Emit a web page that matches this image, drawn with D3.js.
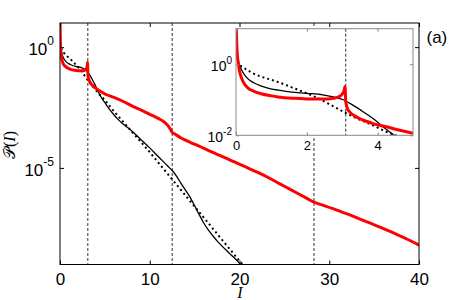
<!DOCTYPE html>
<html>
<head>
<meta charset="utf-8">
<script src="https://cdn.jsdelivr.net/npm/d3@7"></script>
<style>
body { margin: 0; background: #fff; }
text { font-family: "Liberation Sans", Arial, sans-serif; }
</style>
</head>
<body>
<svg width="463" height="300"></svg>
<script>
// values (I, and log10 of P(I))
var redI   = [0, 0.02, 0.04, 0.07, 0.1, 0.15, 0.2, 0.34, 0.5, 0.71, 1.0, 1.18, 1.65, 2.0, 2.4, 2.6, 2.8, 2.93, 3.0, 3.05, 3.08,
              3.1, 3.15, 3.21, 3.35, 3.49, 3.7, 3.87, 4.24, 4.63, 5, 6, 7, 8, 9, 10, 11, 11.5, 12, 12.3, 12.5, 12.8,
              13.5, 14.5, 15.5, 16.5, 17.5, 18.5, 19.5, 20.5, 21.5, 22.5, 23.5, 24.5, 25.5, 26.5, 27.5, 28.3, 28.6,
              29.5, 30.5, 31.5, 32.5, 33.5, 34.5, 35.5, 36.5, 37.5, 38.5, 39.5, 40];
var redLog = [1.3, 0.6, 0.25, 0.0, -0.2, -0.37, -0.49, -0.67, -0.76, -0.83, -0.89, -0.92, -0.96, -0.975, -0.98, -0.975, -0.95, -0.9, -0.84, -0.75, -0.63,
              -1.05, -1.25, -1.34, -1.45, -1.53, -1.61, -1.67, -1.76, -1.86, -1.94, -2.08, -2.24, -2.43, -2.6, -2.78, -2.96, -3.07, -3.24, -3.4, -3.53, -3.6,
              -3.76, -3.94, -4.1, -4.27, -4.44, -4.6, -4.76, -4.93, -5.1, -5.27, -5.46, -5.66, -5.86, -6.06, -6.26, -6.42, -6.46,
              -6.57, -6.7, -6.84, -6.98, -7.13, -7.28, -7.43, -7.59, -7.75, -7.92, -8.1, -8.2];

var solidI   = [0.03, 0.06, 0.1, 0.17, 0.24, 0.35, 0.5, 0.7, 0.9, 1.2, 1.46, 1.75, 2.0, 2.45, 2.75, 3.03, 3.3, 3.58, 3.87, 4.15, 4.4,
                4.7, 5, 5.5, 6, 6.5, 7, 7.5, 8, 9, 10, 11, 12, 12.6, 13, 13.5, 14, 14.5, 15, 15.5, 16, 16.5, 17, 17.5, 18, 19, 20, 20.3];
var solidLog = [0.35, 0.12, -0.02, -0.18, -0.3, -0.42, -0.52, -0.61, -0.67, -0.73, -0.77, -0.8, -0.82, -0.86, -0.92, -1.0, -1.15, -1.33, -1.53, -1.76, -1.95,
                -2.14, -2.3, -2.57, -2.8, -3.0, -3.17, -3.32, -3.47, -3.82, -4.17, -4.55, -4.92, -5.15, -5.35, -5.65, -5.93, -6.22, -6.57, -6.93, -7.27, -7.56, -7.8, -8.02, -8.22, -8.58, -8.95, -9.1];

var dotI   = [0.12, 0.25, 0.43, 0.71, 1.0, 1.18, 1.5, 1.65, 2.03, 2.4, 2.74, 3.12, 3.49, 3.87, 4.24, 4.5, 5, 6, 7, 8, 9, 10,
              11, 12, 13, 14, 15, 16, 17, 18, 19, 20, 20.8];
var dotLog = [-0.04, -0.12, -0.23, -0.35, -0.44, -0.5, -0.62, -0.68, -0.83, -1.0, -1.18, -1.38, -1.56, -1.72, -1.9, -2.0, -2.2, -2.65, -3.07, -3.5, -3.92, -4.35,
              -4.8, -5.25, -5.7, -6.15, -6.6, -7.05, -7.5, -7.95, -8.4, -8.85, -9.2];

var markers = [3.1, 12.5, 28.3];
var insetMarkers = [3.1];

var xTicks = [0, 10, 20, 30, 40];
var yTicks = [1, 1e-5];
var yTickExp = ["0", "-5"];
var insetXTicks = [0, 2, 4];
var insetYTicks = [1, 1e-2];
var insetYTickExp = ["0", "-2"];

function series(xs, ls) {
  return xs.map(function(v, i) { return {I: v, P: Math.pow(10, ls[i])}; });
}
var red = series(redI, redLog),
    solid = series(solidI, solidLog),
    dotted = series(dotI, dotLog);

var svg = d3.select("svg");

// ---------- main axes ----------
var x = d3.scaleLinear().domain([0, 40]).range([60, 419]);
var y = d3.scaleLog().domain([1e-9, 1e1]).range([264.5, 23]);

svg.append("clipPath").attr("id", "clipMain")
  .append("rect").attr("x", 60).attr("y", 23).attr("width", 359).attr("height", 241.5);

var main = svg.append("g").attr("clip-path", "url(#clipMain)");

main.selectAll(".mark").data(markers).enter().append("line")
  .attr("x1", function(d) { return x(d); }).attr("x2", function(d) { return x(d); })
  .attr("y1", 23).attr("y2", 264.5)
  .attr("stroke", "#333").attr("stroke-width", 1).attr("stroke-dasharray", "3,2");

var line = d3.line().x(function(d) { return x(d.I); }).y(function(d) { return y(d.P); }).curve(d3.curveMonotoneX);

main.append("path").attr("d", line(dotted)).attr("fill", "none")
  .attr("stroke", "#000").attr("stroke-width", 2).attr("stroke-dasharray", "2,3");
main.append("path").attr("d", line(solid)).attr("fill", "none")
  .attr("stroke", "#000").attr("stroke-width", 1.3);
main.append("path").attr("d", line(red)).attr("fill", "none")
  .attr("stroke", "#f00").attr("stroke-width", 3).attr("stroke-linejoin", "round");

svg.append("rect").attr("x", 60).attr("y", 23).attr("width", 359).attr("height", 241.5)
  .attr("fill", "none").attr("stroke", "#000").attr("stroke-width", 1);

function styleAxis(g, size, color) {
  g.select(".domain").remove();
  g.attr("font-family", null).attr("font-size", size);
  g.selectAll("line").attr("stroke", color);
  g.selectAll("text").attr("fill", "#000");
}

svg.append("g").attr("transform", "translate(0,264.5)")
  .call(d3.axisBottom(x).tickValues(xTicks).tickSizeInner(-4).tickSizeOuter(0).tickPadding(8.4).tickFormat(d3.format("d")))
  .call(styleAxis, 17, "#000");
svg.append("g").attr("transform", "translate(0,23)")
  .call(d3.axisTop(x).tickValues(xTicks).tickSizeInner(-4).tickSizeOuter(0).tickFormat(""))
  .call(styleAxis, 17, "#000");
svg.append("g").attr("transform", "translate(60,0)")
  .call(d3.axisLeft(y).tickValues(yTicks).tickSizeInner(-4).tickSizeOuter(0).tickFormat(""))
  .call(styleAxis, 17, "#000");
svg.append("g").attr("transform", "translate(419,0)")
  .call(d3.axisRight(y).tickValues(yTicks).tickSizeInner(-4).tickSizeOuter(0).tickFormat(""))
  .call(styleAxis, 17, "#000");

var yl = svg.selectAll(".ylab").data(yTicks).enter().append("text")
  .attr("text-anchor", "end").attr("x", 54)
  .attr("y", function(d) { return y(d) + 8; })
  .attr("font-size", 17);
yl.append("tspan").text("10");
yl.append("tspan").attr("dy", -10).attr("font-size", 12)
  .text(function(d, i) { return yTickExp[i]; });

// axis titles
svg.append("text").attr("x", 240).attr("y", 297.5).attr("text-anchor", "middle")
  .style("font-family", "'Liberation Serif', serif").style("font-style", "italic")
  .attr("font-size", 16).text("I");

var ylab = svg.append("text").attr("transform", "translate(15,145) rotate(-90)")
  .attr("text-anchor", "middle").attr("font-size", 16)
  .style("font-family", "'Liberation Serif', serif");
ylab.append("tspan").text("\u{1D4AB}");
ylab.append("tspan").text("(");
ylab.append("tspan").style("font-style", "italic").text("I");
ylab.append("tspan").text(")");

svg.append("text").attr("x", 426.5).attr("y", 42.5).attr("font-size", 17).text("(a)");

// ---------- inset ----------
var xi = d3.scaleLinear().domain([0, 5]).range([236, 413]);
var yi = d3.scaleLog().domain([1e-2, 1e1]).range([135.3, 28.7]);

svg.append("rect").attr("x", 236).attr("y", 28.7).attr("width", 177).attr("height", 106.6).attr("fill", "#fff");

svg.append("clipPath").attr("id", "clipInset")
  .append("rect").attr("x", 236).attr("y", 28.7).attr("width", 177).attr("height", 106.6);

var inset = svg.append("g").attr("clip-path", "url(#clipInset)");

inset.selectAll(".imark").data(insetMarkers).enter().append("line")
  .attr("x1", function(d) { return xi(d); }).attr("x2", function(d) { return xi(d); })
  .attr("y1", 28.7).attr("y2", 135.3)
  .attr("stroke", "#333").attr("stroke-width", 1).attr("stroke-dasharray", "3,2");

var iline = d3.line().x(function(d) { return xi(d.I); }).y(function(d) { return yi(d.P); }).curve(d3.curveMonotoneX);

inset.append("path").attr("d", iline(dotted)).attr("fill", "none")
  .attr("stroke", "#000").attr("stroke-width", 2).attr("stroke-dasharray", "2,3");
inset.append("path").attr("d", iline(solid)).attr("fill", "none")
  .attr("stroke", "#000").attr("stroke-width", 1.3);
inset.append("path").attr("d", iline(red)).attr("fill", "none")
  .attr("stroke", "#f00").attr("stroke-width", 3).attr("stroke-linejoin", "round");

svg.append("rect").attr("x", 236).attr("y", 28.7).attr("width", 177).attr("height", 106.6)
  .attr("fill", "none").attr("stroke", "#888").attr("stroke-width", 1);

svg.append("g").attr("transform", "translate(0,135.3)")
  .call(d3.axisBottom(xi).tickValues(insetXTicks).tickSizeInner(-3).tickSizeOuter(0).tickPadding(5.5).tickFormat(d3.format("d")))
  .call(styleAxis, 13, "#888");
svg.append("g").attr("transform", "translate(0,28.7)")
  .call(d3.axisTop(xi).tickValues(insetXTicks).tickSizeInner(-3).tickSizeOuter(0).tickFormat(""))
  .call(styleAxis, 13, "#888");
svg.append("g").attr("transform", "translate(236,0)")
  .call(d3.axisLeft(yi).tickValues(insetYTicks).tickSizeInner(-3).tickSizeOuter(0).tickFormat(""))
  .call(styleAxis, 13, "#888");
svg.append("g").attr("transform", "translate(413,0)")
  .call(d3.axisRight(yi).tickValues(insetYTicks).tickSizeInner(-3).tickSizeOuter(0).tickFormat(""))
  .call(styleAxis, 13, "#888");

var iyl = svg.selectAll(".iylab").data(insetYTicks).enter().append("text")
  .attr("text-anchor", "end").attr("x", 232)
  .attr("y", function(d) { return yi(d) + 6.4; })
  .attr("font-size", 14);
iyl.append("tspan").text("10");
iyl.append("tspan").attr("dy", -6.7).attr("font-size", 10)
  .text(function(d, i) { return insetYTickExp[i]; });
</script>
</body>
</html>
